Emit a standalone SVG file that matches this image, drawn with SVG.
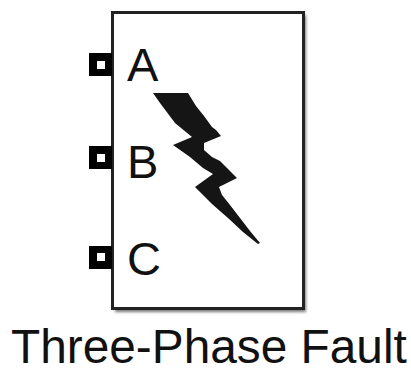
<svg xmlns="http://www.w3.org/2000/svg" width="411" height="369" viewBox="0 0 411 369">
  <defs>
    <style>
      text { font-family: "Liberation Sans", Arial, sans-serif; fill: #111; }
      .port { font-size: 47px; }
      .title { font-size: 47.8px; }
      .hole { fill: #fff; }
    </style>
    <filter id="blur" x="-10%" y="-10%" width="120%" height="120%"><feGaussianBlur stdDeviation="1.6"/></filter>
  </defs>
  <rect width="411" height="369" fill="#fff"/>
  <g id="block">
    <rect x="115" y="15" width="191" height="297" fill="#777" filter="url(#blur)"/>
    <rect x="112.5" y="12.5" width="191" height="296" fill="#fff" stroke="#222" stroke-width="3"/>
    <polygon fill="#151515" points="153,93 188,93 196,106 204,116 212,127 216,130 221,136 204,143 204,150 212,157 220,161 228,169 237,178 219,187 222,195 230,205 240,218 250,231 260,243 258,244 243,232 228,218 212,204 195,187 213,174 203,168 190,157 173,145 192,137 175,123 160,103"/>
    <text class="port" x="127" y="81">A</text>
    <text class="port" x="127" y="178">B</text>
    <text class="port" x="127" y="275">C</text>
  </g>
  <g id="port-a"><rect x="89" y="53" width="23" height="23"/><rect class="hole" x="97" y="61" width="8" height="8"/></g>
  <g id="port-b"><rect x="89" y="146" width="23" height="23"/><rect class="hole" x="97" y="154" width="8" height="8"/></g>
  <g id="port-c"><rect x="89" y="246" width="23" height="23"/><rect class="hole" x="97" y="253" width="8" height="8"/></g>
  <text class="title" x="11" y="363">Three-Phase Fault</text>
</svg>
